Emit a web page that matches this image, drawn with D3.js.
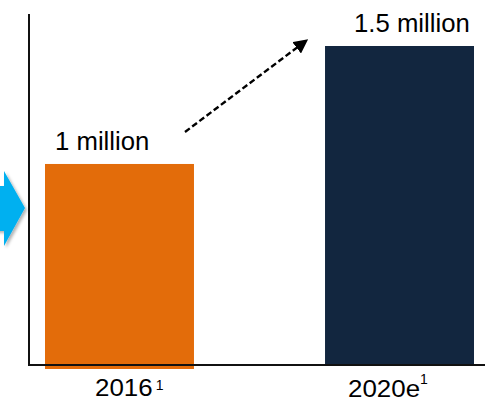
<!DOCTYPE html>
<html>
<head>
<meta charset="utf-8">
<script src="https://cdn.jsdelivr.net/npm/d3@7"></script>
<style>
  html, body { margin: 0; padding: 0; background: #fff; }
  svg { display: block; }
  text { font-family: "Liberation Sans", Arial, sans-serif; fill: #000; }
</style>
</head>
<body>
<svg id="chart" width="488" height="403"></svg>
<script>
// Unit sales, millions
const categories = ["2016", "2020e"];
const values = [1.0, 1.5];
const valueLabels = ["1 million", "1.5 million"];
const tickLabels = ["2016", "2020e"];
const tickNotes = ["1", "1"];
const barColors = ["#E36C0A", "#12263F"];

const svg = d3.select("#chart");

const baseY = 365, axisLeft = 29, axisRight = 485;

const x = d3.scaleBand()
  .domain(categories)
  .range([17, 502])
  .paddingInner(0.468)
  .paddingOuter(0.1);

const y = d3.scaleLinear()
  .domain([0.148, 1.5])
  .range([baseY, 46]);

// Blue lead-in arrow at the left edge, with a soft shadow
const defs = svg.append("defs");
const f = defs.append("filter").attr("id", "shadow")
  .attr("x", "-50%").attr("y", "-50%").attr("width", "200%").attr("height", "200%");
f.append("feDropShadow").attr("dx", 2).attr("dy", 2).attr("stdDeviation", 1.5)
  .attr("flood-color", "#000").attr("flood-opacity", 0.3);

svg.append("path")
  .attr("d", "M-20,186 L4,186 L4,171 L25,208 L4,246 L4,231 L-20,231 Z")
  .attr("fill", "#00B0F0")
  .attr("filter", "url(#shadow)");

// Bars
svg.selectAll("rect.bar")
  .data(categories)
  .join("rect")
  .attr("class", "bar")
  .attr("x", d => x(d))
  .attr("width", x.bandwidth())
  .attr("y", (d, i) => y(values[i]))
  .attr("height", (d, i) => baseY - y(values[i]) + (i === 0 ? 4 : 0))
  .attr("fill", (d, i) => barColors[i]);

// Axis lines
svg.append("line")
  .attr("x1", axisLeft).attr("x2", axisLeft)
  .attr("y1", 14).attr("y2", baseY + 1)
  .attr("stroke", "#111").attr("stroke-width", 2);
svg.append("line")
  .attr("x1", axisLeft - 1).attr("x2", axisRight)
  .attr("y1", baseY).attr("y2", baseY)
  .attr("stroke", "#111").attr("stroke-width", 2);

// Value labels above bars
const labelX = [55, 354];
svg.selectAll("text.value")
  .data(categories)
  .join("text")
  .attr("class", "value")
  .attr("transform", (d, i) => `translate(${labelX[i]},${y(values[i]) - 14}) scale(1.03,1)`)
  .attr("font-size", 25)
  .text((d, i) => valueLabels[i]);

// Category labels with footnote markers
const tickX = [95, 348];
const tickBase = [396, 397];
const noteDx = [3, 0];
const noteBase = [390, 384];
const sx = 1.08;
categories.forEach((c, i) => {
  const t = svg.append("text")
    .attr("transform", `translate(${tickX[i]},${tickBase[i]}) scale(${sx},1)`)
    .attr("font-size", 24)
    .text(tickLabels[i]);
  const w = t.node().getComputedTextLength() * sx;
  svg.append("text")
    .attr("x", tickX[i] + w + noteDx[i])
    .attr("y", noteBase[i])
    .attr("font-size", 14)
    .text(tickNotes[i]);
});

// Dashed growth arrow between the bars
defs.append("marker")
  .attr("id", "head")
  .attr("viewBox", "0 0 10 10")
  .attr("refX", 9).attr("refY", 5)
  .attr("markerWidth", 6).attr("markerHeight", 6)
  .attr("markerUnits", "strokeWidth")
  .attr("orient", "auto")
  .append("path")
  .attr("d", "M0,0 L10,5 L0,10 Z")
  .attr("fill", "#000");

svg.append("line")
  .attr("x1", 185).attr("y1", 132)
  .attr("x2", 307).attr("y2", 40)
  .attr("stroke", "#000")
  .attr("stroke-width", 2.4)
  .attr("stroke-dasharray", "6,3")
  .attr("marker-end", "url(#head)");
</script>
</body>
</html>
